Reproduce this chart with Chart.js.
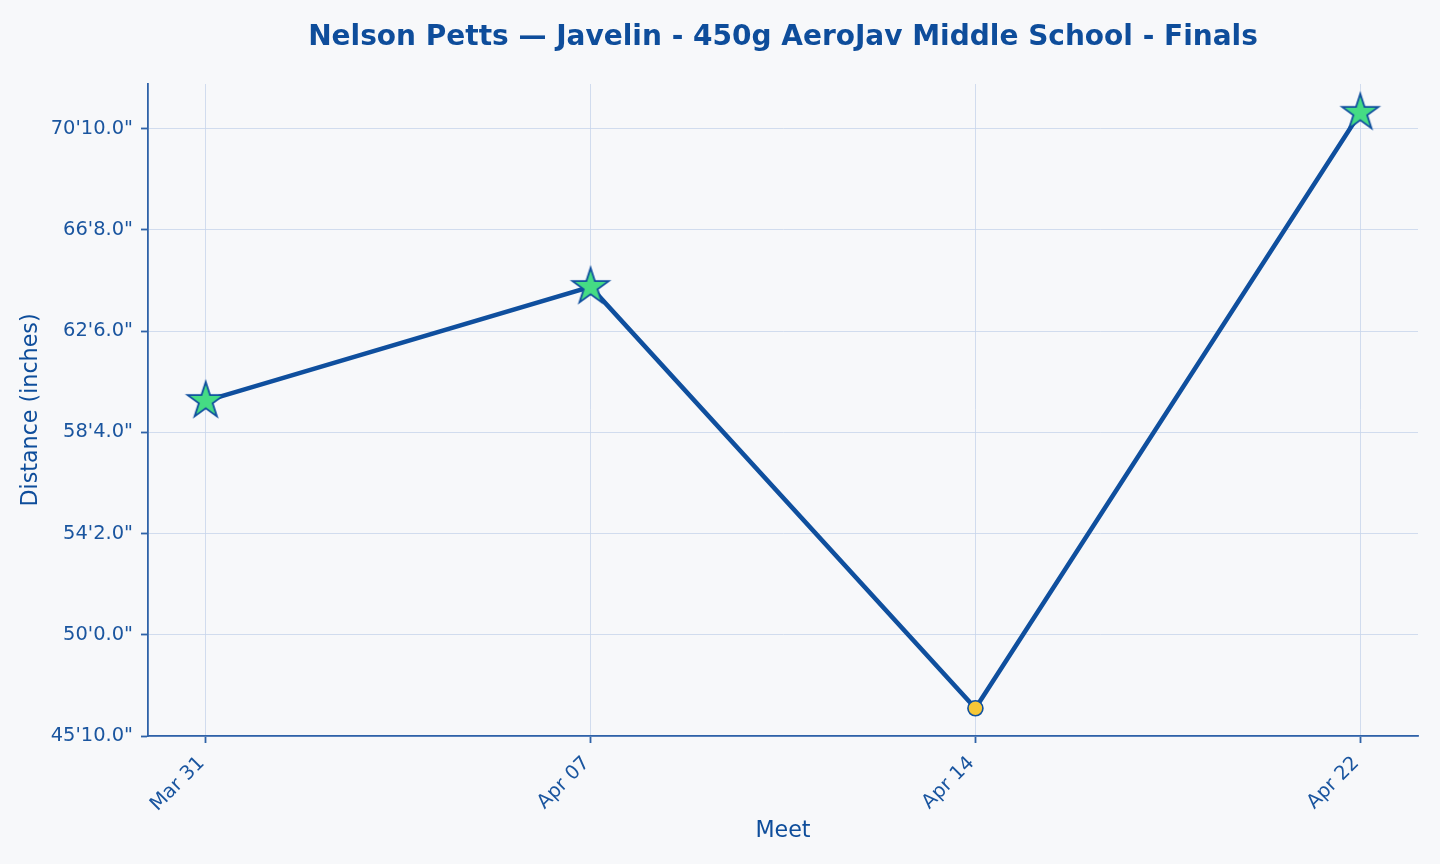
<!DOCTYPE html>
<html><head><meta charset="utf-8">
<script src="https://cdn.jsdelivr.net/npm/chart.js@4.4.0/dist/chart.umd.min.js"></script>
<style>html,body{margin:0;padding:0;background:#f7f8fa;} canvas{display:block;}</style>
</head><body>
<canvas id="c" width="1440" height="864"></canvas>
<script>
const meets = ["Mar 31", "Apr 07", "Apr 14", "Apr 22"];
const distances = [715.5, 771.8, 563.7, 857.8];   // inches
const isPR = [true, true, false, true];
const yTicks = [550, 600, 650, 700, 750, 800, 850];
const titleText = "Nelson Petts — Javelin - 450g AeroJav Middle School - Finals";

const BLUE = '#0e4d9b';
const TICK = '#1a559f';
const SPINE = '#2f62a8';
const GRID = '#c6d4eb';
const FONT = 'DejaVu Sans';

function fmt(v) {
  const ft = Math.floor(v / 12 + 1e-9);
  const inch = v - ft * 12;
  return ft + "'" + inch.toFixed(1) + '"';
}

function makeStar(R, fill, stroke, lw) {
  const half = Math.ceil(R + lw + 2);
  const size = half * 2;
  const c = document.createElement('canvas');
  c.width = size; c.height = size;
  const ctx = c.getContext('2d');
  const r = R * 0.381966;
  ctx.beginPath();
  for (let i = 0; i < 10; i++) {
    const a = -Math.PI / 2 + i * Math.PI / 5;
    const rr = i % 2 === 0 ? R : r;
    ctx.lineTo(half + rr * Math.cos(a), half + rr * Math.sin(a));
  }
  ctx.closePath();
  ctx.fillStyle = fill; ctx.fill();
  ctx.lineWidth = lw; ctx.strokeStyle = stroke; ctx.lineJoin = 'miter';
  ctx.stroke();
  return c;
}
const star = makeStar(19, '#45dc84', '#0f4f9e', 1.8);

const bgPlugin = {
  id: 'bg',
  beforeDraw(chart) {
    const ctx = chart.ctx;
    ctx.save(); ctx.fillStyle = '#f7f8fa';
    ctx.fillRect(0, 0, chart.width, chart.height); ctx.restore();
  }
};

new Chart(document.getElementById('c'), {
  type: 'line',
  data: {
    datasets: [{
      data: meets.map((m, i) => ({ x: i, y: distances[i] })),
      borderColor: '#0f4f9e',
      borderWidth: 4.5,
      tension: 0,
      fill: false,
      pointStyle: isPR.map(p => p ? star : 'circle'),
      pointRadius: isPR.map(p => p ? 19 : 7.5),
      pointBackgroundColor: isPR.map(p => p ? '#45dc84' : '#f6c737'),
      pointBorderColor: '#0f4f9e',
      pointBorderWidth: 1.6
    }]
  },
  options: {
    responsive: false,
    animation: false,
    events: [],
    layout: { padding: { left: 13.7, right: 22, top: 0, bottom: 15.7 } },
    plugins: {
      legend: { display: false },
      tooltip: { enabled: false },
      title: {
        display: true, text: titleText, fullSize: false, color: BLUE,
        font: { family: FONT, size: 28, weight: 'bold' },
        padding: { top: 20.5, bottom: 29.9 }
      }
    },
    scales: {
      x: {
        type: 'linear', min: -0.15, max: 3.15,
        afterBuildTicks: s => { s.ticks = meets.map((_, i) => ({ value: i })); },
        afterFit: s => { s.height = 112.3; },
        ticks: {
          callback: v => meets[v], maxRotation: 45, minRotation: 45,
          color: TICK, font: { family: FONT, size: 19.44 }, padding: 9, labelOffset: -4
        },
        grid: { color: GRID, lineWidth: 0.8, tickLength: 7, tickColor: SPINE, tickWidth: 1.8 },
        border: { color: SPINE, width: 1.8 },
        title: { display: true, text: 'Meet', color: BLUE, font: { family: FONT, size: 22.2 } }
      },
      y: {
        min: 550, max: 872,
        afterBuildTicks: s => { s.ticks = yTicks.map(v => ({ value: v })); },
        afterFit: s => { s.width = 134.3; },
        ticks: {
          callback: v => fmt(v), color: TICK,
          font: { family: FONT, size: 19.44 }, padding: 8
        },
        grid: { color: GRID, lineWidth: 0.8, tickLength: 7, tickColor: SPINE, tickWidth: 1.8 },
        border: { color: SPINE, width: 1.8 },
        title: { display: true, text: 'Distance (inches)', color: BLUE, font: { family: FONT, size: 22.2 } }
      }
    }
  },
  plugins: [bgPlugin]
});
</script>
</body></html>
